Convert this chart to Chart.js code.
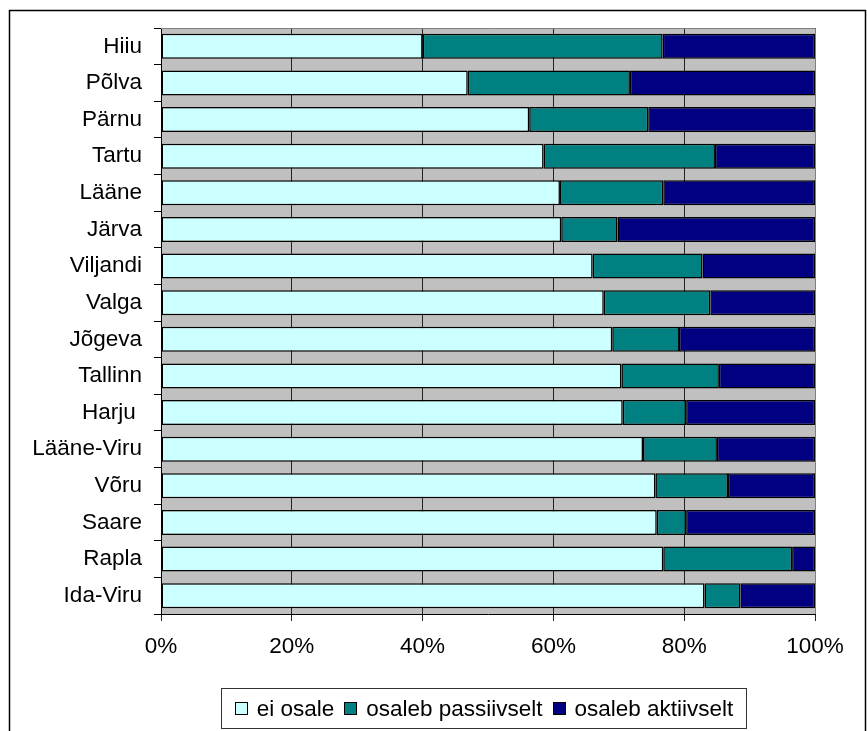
<!DOCTYPE html>
<html>
<head>
<meta charset="utf-8">
<script src="https://cdn.jsdelivr.net/npm/chart.js@4/dist/chart.umd.min.js"></script>
<style>
    html, body { margin: 0; padding: 0; background: #fff; }
    #wrap { position: relative; width: 867px; height: 731px; }
    #chart { position: absolute; left: 0; top: 0; }
    #legend {
        position: absolute; left: 221px; top: 688px; width: 524px; height: 39px;
        border: 1px solid #333; display: flex; align-items: center; justify-content: center;
        font-family: "Liberation Sans", Arial, sans-serif; font-size: 22.5px; color: #000;
        white-space: nowrap; box-sizing: content-box;
    }
    #legend .item { display: flex; align-items: center; margin: 0 5px; }
    #legend .box { width: 11px; height: 11px; border: 1px solid #000; margin-right: 9px; }
</style>
</head>
<body>
<div id="wrap">
    <canvas id="chart" width="867" height="731"></canvas>
    <div id="legend"></div>
</div>
<script>
const counties = ['Hiiu', 'Põlva', 'Pärnu', 'Tartu', 'Lääne', 'Järva', 'Viljandi', 'Valga', 'Jõgeva', 'Tallinn', 'Harju ', 'Lääne-Viru', 'Võru', 'Saare', 'Rapla', 'Ida-Viru'];
const eiOsale = [40.0, 46.9, 56.3, 58.5, 61.0, 61.2, 66.0, 67.7, 69.0, 70.4, 70.6, 73.7, 75.6, 75.8, 76.8, 83.1];
const passiivselt = [36.7, 24.8, 18.2, 26.2, 15.8, 8.6, 16.8, 16.3, 10.2, 14.9, 9.7, 11.3, 11.1, 4.5, 19.7, 5.5];
const aktiivselt = [23.3, 28.3, 25.5, 15.3, 23.2, 30.2, 17.2, 16.0, 20.8, 14.7, 19.7, 15.0, 13.3, 19.7, 3.5, 11.4];
const seriesNames = ['ei osale', 'osaleb passiivselt', 'osaleb aktiivselt'];
const seriesColors = ['#CCFFFF', '#008080', '#000080'];
const xTicks = [0, 20, 40, 60, 80, 100];

const FONT = { family: '"Liberation Sans", Arial, sans-serif', size: 22.5 };

// hall taust joonisealale + raam ümber kogu pildi
const plotBg = {
    id: 'plotBg',
    beforeDraw(chart) {
        const { ctx, chartArea: a } = chart;
        ctx.save();
        ctx.fillStyle = '#C0C0C0';
        ctx.fillRect(a.left, a.top, a.right - a.left, a.bottom - a.top);
        ctx.strokeStyle = '#000';
        ctx.lineWidth = 1.5;
        ctx.strokeRect(9.5, 10.5, 856, 760);
        ctx.restore();
    },
    afterDraw(chart) {
        const { ctx, chartArea: a } = chart;
        ctx.save();
        ctx.strokeStyle = '#808080';
        ctx.lineWidth = 1;
        ctx.beginPath();
        ctx.moveTo(a.left, a.top + 0.5);
        ctx.lineTo(a.right + 0.5, a.top + 0.5);
        ctx.lineTo(a.right + 0.5, a.bottom);
        ctx.stroke();
        ctx.restore();
    }
};

const datasets = [eiOsale, passiivselt, aktiivselt].map((vals, i) => ({
    label: seriesNames[i],
    data: vals,
    backgroundColor: seriesColors[i],
    borderColor: '#000',
    borderWidth: 1.5,
    borderSkipped: false,
    barPercentage: 0.68,
    categoryPercentage: 1.0
}));

new Chart(document.getElementById('chart'), {
    type: 'bar',
    data: { labels: counties, datasets: datasets },
    options: {
        indexAxis: 'y',
        responsive: false,
        animation: false,
        layout: { padding: { top: 28, right: 52, left: 0, bottom: 0 } },
        plugins: { legend: { display: false }, tooltip: { enabled: false } },
        scales: {
            x: {
                stacked: true,
                min: 0, max: 100,
                afterBuildTicks: (scale) => { scale.ticks = xTicks.map(v => ({ value: v })); },
                afterFit: (scale) => { scale.height = 117; },
                ticks: { color: '#000', font: FONT, padding: 12, maxRotation: 0, callback: v => v + '%' },
                grid: { color: '#222', lineWidth: 1, tickLength: 7, drawOnChartArea: true },
                border: { color: '#000', width: 1 }
            },
            y: {
                stacked: true,
                afterFit: (scale) => { scale.width = 161; },
                ticks: { color: '#000', font: FONT, padding: 12, autoSkip: false },
                grid: { offset: true, drawOnChartArea: false, color: '#000', tickLength: 7 },
                border: { color: '#000', width: 1 }
            }
        }
    },
    plugins: [plotBg]
});

const legend = document.getElementById('legend');
seriesNames.forEach((name, i) => {
    const item = document.createElement('span');
    item.className = 'item';
    item.innerHTML = `<span class="box" style="background:${seriesColors[i]}"></span><span>${name}</span>`;
    legend.appendChild(item);
});
</script>
</body>
</html>
